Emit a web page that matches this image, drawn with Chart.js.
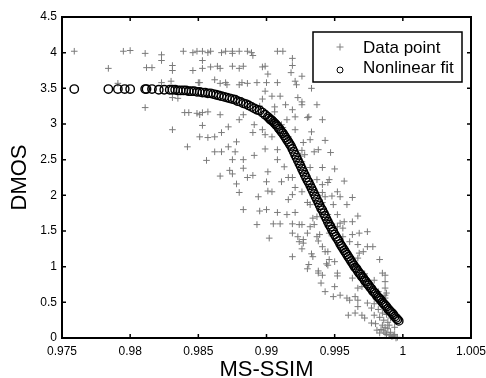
<!DOCTYPE html>
<html><head><meta charset="utf-8">
<script src="https://cdn.jsdelivr.net/npm/chart.js@4.4.0/dist/chart.umd.min.js"></script>
<style>html,body{margin:0;padding:0;background:#fff;}#wrap{width:486px;height:378px;}</style>
</head><body><div id="wrap"><canvas id="c" width="486" height="378"></canvas></div>
<script>
const xTicks = [0.975, 0.98, 0.985, 0.99, 0.995, 1, 1.005];
const xTickLabels = ['0.975', '0.98', '0.985', '0.99', '0.995', '1', '1.005'];
const yTicks = [0, 0.5, 1, 1.5, 2, 2.5, 3, 3.5, 4, 4.5];
const yTickLabels = ['0', '0.5', '1', '1.5', '2', '2.5', '3', '3.5', '4', '4.5'];
const seriesNames = ['Data point', 'Nonlinear fit'];
const axisTitles = ['MS-SSIM', 'DMOS'];

const dataX = [
0.9759,0.9784,0.9795,0.9800,0.9791,0.9811,0.9812,0.9816,0.9811,0.9823,0.9823,0.9831,0.9831,0.9823,0.9830,0.9839,0.9846,0.9849,0.9846,0.9831,0.9835,0.9831,0.9840,0.9843,0.9849,0.9842,0.9850,
0.9853,0.9857,0.9859,0.9867,0.9870,0.9875,0.9875,0.9880,0.9886,0.9889,0.9890,0.9908,0.9912,
0.9853,0.9853,0.9859,0.9864,0.9866,0.9875,0.9880,0.9883,0.9897,0.9899,0.9919,0.9919,0.9918,0.9926,
0.9851,0.9862,0.9866,0.9870,0.9871,0.9880,0.9882,0.9886,0.9893,0.9901,0.9900,0.9908,0.9921,0.9922,
0.9899,0.9904,0.9897,0.9910,0.9906,0.9906,0.9914,0.9919,0.9923,0.9926,
0.9851,0.9853,0.9857,0.9866,0.9853,0.9872,0.9867,0.9862,0.9857,0.9851,0.9883,0.9880,0.9891,0.9890,0.9897,0.9899,0.9904,0.9911,0.9915,0.9921,0.9921,0.9916,
0.9872,0.9878,0.9862,0.9867,0.9877,0.9856,0.9875,0.9883,0.9891,0.9899,0.9908,0.9908,0.9913,0.9873,0.9875,0.9883,0.9886,0.9890,0.9866,0.9878,0.9880,0.9894,0.9901,0.9900,0.9901,0.9904,0.9911,0.9916,0.9919,0.9921,0.9919,0.9916,0.9883,0.9895,0.9900,0.9908,0.9915,0.9921,0.9893,0.9905,0.9910,0.9919,0.9924,0.9919,0.9902,0.9923,
0.9924,0.9927,0.9938,0.9926,0.9941,0.9943,0.9945,0.9919,0.9933,0.9934,0.9931,0.9930,0.9938,0.9938,0.9941,0.9944,0.9940,0.9943,
0.9932,0.9941,0.9950,0.9937,0.9946,0.9945,0.9957,0.9941,0.9933,0.9926,
0.9941,0.9943,0.9948,0.9952,0.9954,0.9963,0.9930,0.9932,0.9941,0.9949,
0.9959,0.9937,0.9934,0.9945,0.9952,0.9967,0.9926,0.9932,0.9935,0.9945,
0.9954,0.9957,0.9963,0.9952,0.9956,0.9946,0.9930,0.9937,0.9939,0.9956,
0.9963,0.9974,0.9927,0.9961,0.9967,0.9978,
0.9933,0.9926,0.9937,0.9930,0.9931,0.9941,0.9933,0.9932,0.9943,0.9927,0.9926,0.9928,0.9935,0.9938,0.9947,0.9926,
0.9946,0.9950,0.9945,0.9952,0.9952,0.9950,0.9954,0.9949,0.9959,0.9961,
0.9965,0.9967,0.9967,0.9960,0.9965,0.9970,0.9967,0.9970,0.9963,0.9966,
0.9967,0.9968,0.9971,0.9974,0.9983,0.9987,0.9987,0.9985,0.9987,0.9974,
0.9977,0.9979,0.9983,0.9985,0.9972,0.9977,0.9981,0.9983,0.9987,0.9990,
0.9993,0.9996,0.9985,0.9987,0.9989,
0.9984,0.9986,0.9988,0.9989,0.9991,0.9992,0.9994,0.9995,0.9986,0.9990,
0.9991,0.9988,0.9994,0.9980,0.9982,0.9979,0.9968,0.9985,0.9979,0.9987,
0.9988,0.9983,0.9987,0.9895,0.9912,0.9925,0.9938,0.9948,0.9958,0.9972,
0.9982
];
const dataY = [
4.02,3.78,4.02,4.03,3.57,3.99,3.79,3.79,3.23,3.97,3.89,3.82,3.75,3.58,3.60,4.02,4.00,4.02,3.75,3.37,3.36,2.92,3.16,3.16,3.15,2.68,3.58,
4.02,4.00,4.02,4.00,4.02,4.02,3.99,4.02,4.02,4.00,3.96,4.02,4.02,
3.89,3.78,3.80,3.81,3.78,3.81,3.78,3.81,3.80,3.81,3.92,3.82,3.72,3.67,
3.58,3.62,3.57,3.58,3.55,3.55,3.58,3.57,3.58,3.70,3.58,3.58,3.60,3.55,
3.46,3.39,3.35,3.39,3.24,3.17,3.27,3.20,3.37,3.31,
3.13,3.16,3.17,3.13,2.98,2.96,2.88,2.82,2.81,2.82,3.13,3.06,2.99,2.88,2.92,2.85,2.82,2.99,3.06,3.10,2.92,2.82,
2.68,2.75,2.61,2.61,2.61,2.49,2.50,2.50,2.56,2.65,2.64,2.50,2.40,2.35,2.30,2.38,2.25,2.28,2.27,2.16,2.04,1.98,2.33,2.19,2.06,2.05,2.19,2.25,2.25,2.11,2.01,1.94,1.80,1.78,1.80,1.76,1.73,1.76,1.59,1.60,1.60,1.60,1.59,1.47,1.40,1.42,
1.35,1.33,1.36,1.25,1.28,1.21,1.21,1.14,1.18,1.14,1.03,0.97,0.94,0.91,0.88,1.04,0.77,0.65,
2.39,2.39,2.37,2.22,2.22,2.18,2.20,2.15,2.11,2.05,
2.04,1.98,1.99,2.05,1.98,1.97,1.90,1.87,1.90,1.87,
1.87,1.70,1.68,1.73,1.73,1.71,1.59,1.56,1.59,1.66,
1.61,1.63,1.63,1.56,1.54,1.47,1.47,1.42,1.45,1.42,
1.45,1.49,1.38,1.35,1.31,1.28,
3.50,3.27,3.27,3.09,3.10,3.06,2.89,2.78,2.77,2.74,2.63,2.57,2.61,2.64,2.60,2.47,
1.10,1.07,1.02,0.91,0.87,0.72,0.60,0.58,0.56,0.53,
0.58,0.53,0.44,0.32,0.35,0.32,0.70,0.72,0.84,1.02,
1.12,1.19,1.21,1.28,1.10,0.88,0.70,0.53,0.60,0.49,
0.42,0.32,0.29,0.35,0.28,0.21,0.11,0.07,0.07,0.04,
0.03,0.01,0.18,0.15,0.22,
0.12,0.10,0.05,0.13,0.08,0.02,0.05,0.00,0.25,0.18,
0.28,0.33,0.15,0.20,0.40,0.48,1.47,0.91,0.81,0.79,
0.63,0.58,0.56,3.25,2.95,2.55,2.00,1.60,1.25,0.90,
0.65
];

const fitX = [
0.9759,0.9784,0.9791,0.9796,0.9800,0.9811,0.9812,0.9816,0.9821,0.9825,
0.9829,0.9831,0.9833,0.9835,0.9837,0.9839,0.9841,0.9843,0.9845,0.9847,
0.9849,0.9851,0.9853,0.9855,0.9857,0.9859,0.9861,0.9863,0.9865,0.9867,
0.9869,0.9871,0.9873,0.9875,0.9877,0.9879,0.9881,0.9883,0.9885,0.9887,
0.9889,0.9891,0.9893,0.9895,0.9897,0.9899,
0.9901,0.9902,0.9903,0.9904,0.9905,0.9906,0.9907,0.9908,0.9909,0.9910,
0.9911,0.9912,0.9913,0.9914,0.9915,0.9916,0.9917,0.9918,0.9919,0.9920,
0.9921,0.9922,0.9923,0.9924,0.9925,0.9926,0.9927,0.9928,0.9929,0.9930,
0.9931,0.9932,0.9933,0.9934,0.9935,0.9936,0.9937,0.9938,0.9939,0.9940,
0.9941,0.9942,0.9943,0.9944,0.9945,0.9946,0.9947,0.9948,0.9949,0.9950,
0.9951,0.9952,0.9953,0.9954,0.9955,0.9956,0.9957,0.9958,0.9959,0.9960,
0.9961,0.9962,0.9963,0.9964,0.9965,0.9966,0.9967,0.9968,0.9969,0.9970,
0.9971,0.9972,0.9973,0.9974,0.9975,0.9976,0.9977,0.9978,0.9979,0.9980,
0.9981,0.9982,0.9983,0.9984,0.9985,0.9986,0.9987,0.9988,0.9989,0.9990,
0.9991,0.9992,0.9993,0.9994,0.9995,0.9996,0.9997
];
const fitY = [
3.49,3.49,3.49,3.49,3.49,3.49,3.49,3.49,3.48,3.48,
3.48,3.48,3.48,3.47,3.47,3.47,3.47,3.46,3.46,3.46,
3.45,3.45,3.44,3.44,3.43,3.43,3.42,3.41,3.40,3.39,
3.38,3.37,3.36,3.35,3.34,3.32,3.31,3.29,3.28,3.26,
3.24,3.22,3.20,3.19,3.16,3.13,
3.10,3.08,3.06,3.05,3.03,3.01,2.99,2.97,2.94,2.92,
2.89,2.87,2.84,2.81,2.78,2.75,2.72,2.69,2.65,2.61,
2.57,2.53,2.49,2.45,2.41,2.37,2.33,2.29,2.25,2.21,
2.18,2.14,2.10,2.06,2.02,1.98,1.94,1.90,1.86,1.82,
1.79,1.75,1.71,1.67,1.63,1.59,1.56,1.52,1.49,1.45,
1.42,1.39,1.36,1.32,1.29,1.26,1.23,1.20,1.17,1.14,
1.11,1.08,1.05,1.02,0.99,0.97,0.94,0.91,0.89,0.86,
0.84,0.81,0.79,0.76,0.74,0.71,0.69,0.66,0.64,0.62,
0.59,0.57,0.55,0.53,0.50,0.48,0.46,0.44,0.41,0.39,
0.37,0.35,0.33,0.30,0.28,0.26,0.24
];

const FONT = '"Liberation Sans", Arial, Helvetica, sans-serif';
Chart.defaults.font.family = FONT;
Chart.defaults.color = '#000';

const toPts = (xs, ys) => xs.map((v, i) => ({ x: v, y: ys[i] }));

const framePlugin = {
  id: 'frame',
  afterDraw(chart) {
    const { ctx, chartArea: a, scales: { x, y } } = chart;
    ctx.save();
    ctx.strokeStyle = '#000';
    ctx.lineWidth = 1.5;
    ctx.beginPath();
    xTicks.forEach(v => {
      const p = x.getPixelForValue(v);
      ctx.moveTo(p, a.bottom); ctx.lineTo(p, a.bottom - 4);
      ctx.moveTo(p, a.top); ctx.lineTo(p, a.top + 4);
    });
    yTicks.forEach(v => {
      const p = y.getPixelForValue(v);
      ctx.moveTo(a.left, p); ctx.lineTo(a.left + 4, p);
      ctx.moveTo(a.right, p); ctx.lineTo(a.right - 4, p);
    });
    ctx.stroke();
    ctx.lineWidth = 2;
    ctx.strokeRect(a.left, a.top, a.right - a.left, a.bottom - a.top);

    // legend
    const lx = a.right - 158, ly = a.top + 15, lw = 149, lh = 50;
    ctx.fillStyle = '#fff';
    ctx.fillRect(lx, ly, lw, lh);
    ctx.lineWidth = 1.5;
    ctx.strokeRect(lx, ly, lw, lh);
    const mx = lx + 27;
    ctx.strokeStyle = '#808080';
    ctx.lineWidth = 1;
    ctx.beginPath();
    ctx.moveTo(mx - 3.5, ly + 15); ctx.lineTo(mx + 3.5, ly + 15);
    ctx.moveTo(mx, ly + 11.5); ctx.lineTo(mx, ly + 18.5);
    ctx.stroke();
    ctx.strokeStyle = '#000';
    ctx.beginPath();
    ctx.arc(mx, ly + 38, 3, 0, Math.PI * 2);
    ctx.stroke();
    ctx.fillStyle = '#000';
    ctx.font = '17px ' + FONT;
    ctx.textBaseline = 'middle';
    ctx.textAlign = 'left';
    ctx.fillText(seriesNames[0], lx + 50, ly + 16);
    ctx.fillText(seriesNames[1], lx + 50, ly + 36.5);
    ctx.restore();
  }
};

new Chart(document.getElementById('c'), {
  type: 'scatter',
  data: {
    datasets: [
      {
        label: seriesNames[0],
        data: toPts(dataX, dataY),
        pointStyle: 'cross',
        pointRadius: 3.3,
        borderColor: '#7a7a7a',
        backgroundColor: '#7a7a7a',
        borderWidth: 1,
        clip: false,
        order: 2
      },
      {
        label: seriesNames[1],
        data: toPts(fitX, fitY),
        pointStyle: 'circle',
        pointRadius: 4.2,
        borderColor: '#000',
        backgroundColor: 'rgba(0,0,0,0)',
        borderWidth: 1.4,
        clip: false,
        order: 1
      }
    ]
  },
  options: {
    responsive: false,
    animation: false,
    devicePixelRatio: 1,
    layout: { padding: { left: 0, right: 15, top: 17, bottom: 0 } },
    plugins: { legend: { display: false }, tooltip: { enabled: false } },
    scales: {
      x: {
        type: 'linear',
        min: 0.975,
        max: 1.005,
        afterBuildTicks: s => { s.ticks = xTicks.map(v => ({ value: v })); },
        afterFit: s => { s.height = 40; s.paddingLeft = 0; s.paddingRight = 0; },
        ticks: {
          callback: (v, i) => xTickLabels[i],
          maxRotation: 0, autoSkip: false, padding: 6,
          font: { size: 12 }, color: '#000'
        },
        grid: { display: false, drawTicks: false },
        border: { display: false },
        title: { display: true, text: axisTitles[0], color: '#000', font: { size: 22, lineHeight: 0.75 }, padding: 0 }
      },
      y: {
        type: 'linear',
        min: 0,
        max: 4.5,
        afterBuildTicks: s => { s.ticks = yTicks.map(v => ({ value: v })); },
        afterFit: s => { s.width = 62; s.paddingTop = 0; s.paddingBottom = 0; },
        ticks: {
          callback: (v, i) => yTickLabels[i],
          autoSkip: false, padding: 5,
          font: { size: 12 }, color: '#000'
        },
        grid: { display: false, drawTicks: false },
        border: { display: false },
        title: { display: true, text: axisTitles[1], color: '#000', font: { size: 22, lineHeight: 0.9 }, padding: { top: 10, bottom: 0 } }
      }
    }
  },
  plugins: [framePlugin]
});
</script>
</body></html>
